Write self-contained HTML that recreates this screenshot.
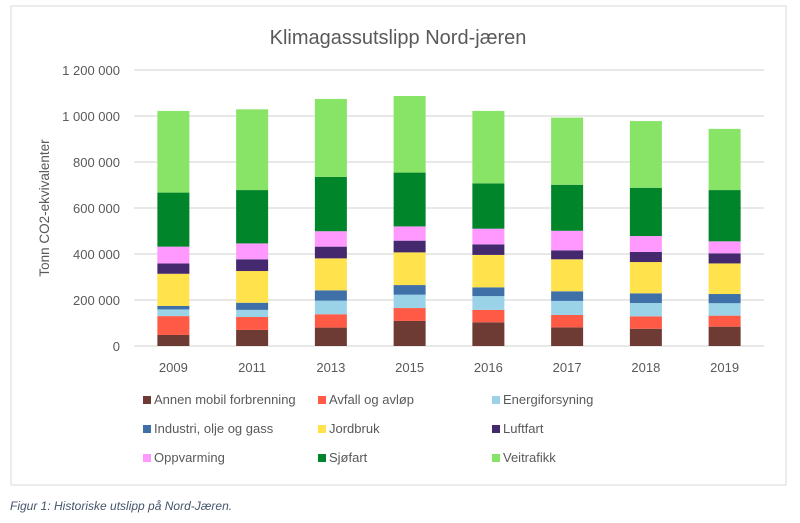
<!DOCTYPE html>
<html><head><meta charset="utf-8"><style>
html,body{margin:0;padding:0;background:#fff;width:800px;height:523px;overflow:hidden}
svg{display:block;font-family:"Liberation Sans",sans-serif}
</style></head><body>
<svg id="chart" width="800" height="523">
<rect x="11" y="6" width="775" height="479" fill="#fff" stroke="#d9d9d9"/>
<text x="398" y="44" text-anchor="middle" font-size="20" fill="#595959">Klimagassutslipp Nord-jæren</text>
<text transform="translate(49,208) rotate(-90)" text-anchor="middle" font-size="13.5" fill="#595959">Tonn CO2-ekvivalenter</text>
<g id="grid"></g><g id="bars"></g><g id="xl"></g><g id="legend"></g>
<text x="10" y="510" font-size="12" font-style="italic" fill="#44546a">Figur 1: Historiske utslipp på Nord-Jæren.</text>
</svg>
<script>
const categories=["2009","2011","2013","2015","2016","2017","2018","2019"];
const seriesNames=["Annen mobil forbrenning","Avfall og avløp","Energiforsyning","Industri, olje og gass","Jordbruk","Luftfart","Oppvarming","Sjøfart","Veitrafikk"];
const seriesColors=["#6e3a34","#ff5a45","#9ad3e8","#4070a8","#ffe24c","#44296f","#ff99ff","#00852a","#88e466"];
const annen=[48000,70000,80000,109000,103000,81000,75000,84000];
const avfall=[82000,56000,58000,56000,54000,54000,54000,48000];
const energi=[29000,31000,59000,58000,60000,61000,58000,54000];
const industri=[15000,31000,45000,42000,38000,42000,42000,40000];
const jordbruk=[140000,138000,139000,142000,141000,139000,136000,133000];
const luftfart=[45000,51000,51000,51000,46000,39000,44000,44000];
const oppvarming=[73000,69000,67000,62000,68000,85000,69000,52000];
const sjofart=[235000,232000,236000,234000,197000,200000,210000,223000];
const veitrafikk=[355000,351000,339000,333000,315000,292000,290000,266000];
const yTicks=[0,200000,400000,600000,800000,1000000,1200000];
const series=[annen,avfall,energi,industri,jordbruk,luftfart,oppvarming,sjofart,veitrafikk];
const NS="http://www.w3.org/2000/svg";
const x0=134,x1=764,y0=346,y1=70,yMax=1200000;
const band=(x1-x0)/categories.length,barW=32;
const yS=v=>y0-(v/yMax)*(y0-y1);
const xS=i=>x0+band*(i+0.5);
function mk(tag,attrs,parent){const e=document.createElementNS(NS,tag);for(const k in attrs)e.setAttribute(k,attrs[k]);parent.appendChild(e);return e;}
const grid=document.getElementById('grid');
yTicks.forEach(t=>{
 const l=mk('line',{x1:x0,x2:x1,y1:yS(t),y2:yS(t),stroke:'#d9d9d9','stroke-width':1.3},grid);
 
 
 const tx=mk('text',{x:120,y:yS(t)+5,'text-anchor':'end','font-size':13,fill:'#595959'},grid);
 tx.textContent=t===0?'0':t.toLocaleString('en-US').replace(/,/g,' ');
 
 
});
const bars=document.getElementById('bars'),xl=document.getElementById('xl');
categories.forEach((c,i)=>{
 let cum=0;
 series.forEach((s,j)=>{
  const v=s[i];
  const r=mk('rect',{x:xS(i)-barW/2,y:yS(cum+v),width:barW,height:yS(cum)-yS(cum+v),fill:seriesColors[j]},bars);
  
  
  cum+=v;
 });
 const t=mk('text',{x:xS(i),y:372,'text-anchor':'middle','font-size':13,fill:'#595959'},xl);
 t.textContent=c;
 
 
});
const lg=document.getElementById('legend');
const colX=[143,318,492],rowY=[401,430,459];
seriesNames.forEach((n,j)=>{
 const cx=colX[j%3],cy=rowY[Math.floor(j/3)];
 const g=mk('g',{},lg);
 
 
 mk('rect',{x:cx,y:cy-5,width:8,height:8,fill:seriesColors[j]},g);
 const t=mk('text',{x:cx+11,y:cy+3,'font-size':13,fill:'#595959'},g);
 t.textContent=n;
});
</script>
</body></html>
